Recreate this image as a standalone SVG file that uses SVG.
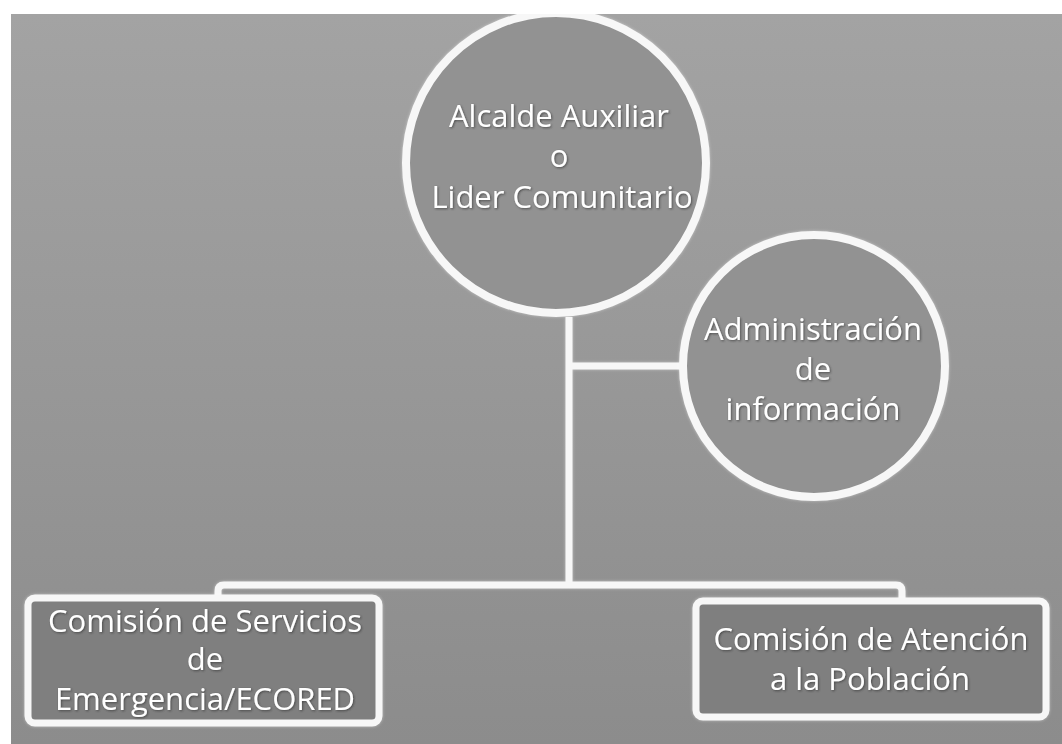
<svg xmlns="http://www.w3.org/2000/svg" width="1062" height="744" viewBox="0 0 1062 744">
  <defs>
    <linearGradient id="bg" x1="0" y1="0" x2="0" y2="1">
      <stop offset="0" stop-color="#a3a3a3"/>
      <stop offset="1" stop-color="#8c8c8c"/>
    </linearGradient>
    <clipPath id="area"><rect x="11" y="14" width="1051" height="730"/></clipPath>
    <filter id="glow" x="-10%" y="-10%" width="120%" height="120%">
      <feGaussianBlur in="SourceAlpha" stdDeviation="1.5" result="b"/>
      <feFlood flood-color="#ffffff" flood-opacity="0.45"/>
      <feComposite in2="b" operator="in" result="g"/>
      <feMerge><feMergeNode in="g"/><feMergeNode in="SourceGraphic"/></feMerge>
    </filter>
    <filter id="tshadow" x="-5%" y="-20%" width="110%" height="140%">
      <feGaussianBlur in="SourceAlpha" stdDeviation="1" result="b"/>
      <feOffset in="b" dx="1" dy="1" result="o"/>
      <feFlood flood-color="#333333" flood-opacity="0.7"/>
      <feComposite in2="o" operator="in" result="s"/>
      <feMerge><feMergeNode in="s"/><feMergeNode in="SourceGraphic"/></feMerge>
    </filter>
  </defs>
  <style>
    .line { fill: none; stroke: #f7f7f7; stroke-width: 7; stroke-linejoin: round; }
    .circ { fill: #929292; stroke: #f7f7f7; stroke-width: 8; }
    .box { fill: #7f7f7f; stroke: #f7f7f7; stroke-width: 7; }
    .lbl { font-family: "Open Sans", "Liberation Sans", sans-serif; font-size: 31px; fill: #ffffff; text-anchor: middle; }
  </style>
  <rect width="1062" height="744" fill="#ffffff"/>
  <rect x="11" y="14" width="1051" height="730" fill="url(#bg)"/>
  <g clip-path="url(#area)">
    <g id="connectors" filter="url(#glow)">
      <path class="line" d="M 569 317 V 585"/>
      <path class="line" d="M 569 366 H 683"/>
      <path class="line" d="M 218 600 V 591 Q 218 585 224 585 H 896 Q 902 585 902 591 V 600"/>
    </g>
    <g id="node-alcalde">
      <circle class="circ" cx="556" cy="163" r="150" filter="url(#glow)"/>
      <g class="lbl" filter="url(#tshadow)">
        <text x="559" y="127">Alcalde Auxiliar</text>
        <text x="559" y="167">o</text>
        <text x="562" y="208">Lider Comunitario</text>
      </g>
    </g>
    <g id="node-administracion">
      <circle class="circ" cx="814" cy="366" r="131" filter="url(#glow)"/>
      <g class="lbl" filter="url(#tshadow)">
        <text x="813" y="340">Administración</text>
        <text x="813" y="380">de</text>
        <text x="813" y="420">información</text>
      </g>
    </g>
    <g id="node-servicios">
      <rect class="box" x="28" y="598" width="351" height="125" rx="7" filter="url(#glow)"/>
      <g class="lbl" filter="url(#tshadow)">
        <text x="205" y="632">Comisión de Servicios</text>
        <text x="205" y="670">de</text>
        <text x="205" y="710">Emergencia/ECORED</text>
      </g>
    </g>
    <g id="node-atencion">
      <rect class="box" x="696" y="601" width="350" height="116" rx="7" filter="url(#glow)"/>
      <g class="lbl" filter="url(#tshadow)">
        <text x="871" y="650">Comisión de Atención</text>
        <text x="870" y="690">a la Población</text>
      </g>
    </g>
  </g>
</svg>
